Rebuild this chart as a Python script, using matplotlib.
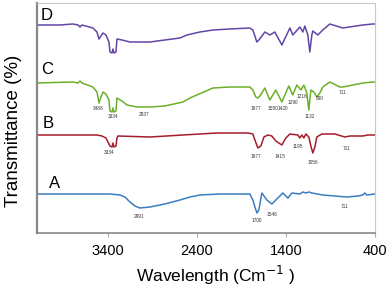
import matplotlib
matplotlib.use('Agg')
import matplotlib.pyplot as plt

plt.rcParams['font.family'] = ['Liberation Sans', 'DejaVu Sans']

# wavenumber (cm-1) / transmittance (offset, arbitrary units)
wn_D = [4200, 3942, 3796, 3739, 3717, 3694, 3571, 3526, 3503, 3481, 3458, 3425, 3391, 3380, 3357,
        3346, 3335, 3312, 3301, 3245, 3155, 2930, 2762, 2593, 2515, 2368, 2222, 2031, 1807, 1773,
        1728, 1706, 1638, 1582, 1526, 1447, 1357, 1324, 1245, 1211, 1189, 1155, 1133, 1110, 1099,
        1043, 987, 908, 762, 537, 425, 400]
T_D = [208, 208, 209, 208, 206, 208, 205, 201, 194, 197, 200, 198, 191, 181, 180,
       184, 180, 181, 194, 193, 191, 191, 193, 195, 198, 201, 203, 204, 205, 203,
       191, 193, 201, 198, 201, 188, 205, 198, 206, 201, 207, 198, 181, 198, 202,
       198, 203, 209, 205, 208, 209, 209]

wn_C = [4200, 3796, 3739, 3717, 3694, 3571, 3526, 3503, 3481, 3458, 3425, 3391, 3380, 3357, 3346,
        3335, 3312, 3301, 3245, 3189, 3076, 2930, 2762, 2560, 2481, 2222, 2031, 1807, 1773, 1740,
        1716, 1694, 1638, 1582, 1515, 1447, 1369, 1324, 1279, 1233, 1200, 1166, 1144, 1121, 1088,
        1054, 1020, 987, 908, 796, 762, 537, 425, 400]
T_C = [150, 151, 150, 152, 150, 146, 141, 130, 136, 141, 139, 133, 122, 121, 125,
       121, 122, 135, 132, 128, 126, 126, 127, 131, 135, 145, 146, 146, 143, 136,
       135, 137, 145, 133, 143, 131, 147, 138, 148, 143, 148, 140, 123, 143, 141,
       136, 140, 146, 151, 146, 146, 150, 151, 151]

wn_B = [4200, 3526, 3470, 3425, 3391, 3380, 3357, 3346, 3335, 3312, 3301, 3290, 2930, 2560, 2178,
        1829, 1773, 1750, 1717, 1683, 1649, 1604, 1560, 1515, 1447, 1402, 1357, 1267, 1245, 1222,
        1200, 1178, 1144, 1121, 1099, 1076, 1054, 998, 852, 739, 683, 537, 481, 400]
T_B = [98, 98, 97, 95, 89, 87, 86, 90, 86, 87, 95, 97, 96, 98, 100,
       100, 99, 93, 85, 87, 96, 98, 97, 92, 88, 95, 99, 98, 95, 98,
       95, 99, 96, 87, 80, 86, 96, 99, 99, 96, 97, 97, 98, 98]

wn_A = [4200, 3380, 3268, 3212, 3155, 3099, 3043, 2930, 2762, 2593, 2481, 2368, 2144, 1807, 1773,
        1750, 1728, 1706, 1672, 1616, 1560, 1515, 1436, 1380, 1335, 1245, 1211, 1178, 1144, 1110,
        987, 852, 717, 593, 537, 515, 492, 400]
T_A = [39, 39, 38, 36, 31, 27, 25, 26, 29, 33, 36, 38, 39, 39, 33,
       26, 20, 23, 40, 33, 29, 33, 40, 35, 40, 39, 41, 40, 41, 40,
       38, 37, 36, 37, 38, 40, 38, 39]

# peak labels: (text, wavenumber, transmittance)
peaks_C = [('3488', 3515, 125), ('3334', 3346, 116), ('2937', 2998, 118), ('1677', 1740, 125),
           ('1550', 1548, 125), ('1420', 1435, 125), ('1290', 1324, 131), ('1216', 1222, 136),
           ('1132', 1133, 116), ('990', 1020, 134), ('711', 762, 140)]
peaks_B = [('3334', 3391, 80), ('1677', 1740, 76), ('1415', 1470, 77), ('1195', 1267, 86),
           ('1056', 1099, 71), ('711', 717, 85)]
peaks_A = [('2991', 3054, 17), ('1700', 1728, 12), ('1546', 1560, 18), ('711', 739, 26)]

letters = [('D', 4088, 218), ('C', 4088, 163), ('B', 4076, 109), ('A', 3998, 50)]

fig = plt.figure(figsize=(3.9, 2.88), dpi=100)
fig.subplots_adjust(left=37/390, right=375/390, top=1-3/288, bottom=1-233/288)
ax = fig.add_subplot(111)

ax.plot(wn_D, T_D, color='#6246a6', lw=1.1)
ax.plot(wn_C, T_C, color='#6cb02a', lw=1.1)
ax.plot(wn_B, T_B, color='#a51d2d', lw=1.1)
ax.plot(wn_A, T_A, color='#3b7cc2', lw=1.1)

for peaks in (peaks_C, peaks_B, peaks_A):
    for txt, x, y in peaks:
        ax.text(x, y, txt, fontsize=3.4, color='#333333', ha='center', va='center')

for txt, x, y in letters:
    ax.text(x, y, txt, fontsize=12, color='black', ha='center', va='center')

ax.set_xlim(4200, 400)
ax.set_ylim(0, 230)
ax.set_xticks([3400, 2400, 1400, 400])
ax.set_yticks([])
ax.tick_params(axis='x', direction='out', length=3, color='#aaaaaa', labelsize=10.5, pad=5)
for s in ['top', 'right']:
    ax.spines[s].set_color('#c8c8c8')
    ax.spines[s].set_linewidth(0.8)
ax.spines['left'].set_color('#888888')
ax.spines['left'].set_linewidth(1.6)
ax.spines['bottom'].set_color('#888888')
ax.spines['bottom'].set_linewidth(1.2)

ax.set_ylabel('Transmittance (%)', fontsize=13.5)
ax.yaxis.set_label_coords(-0.044, 0.443)
ax.set_xlabel('Wavelength (Cm$^{-1}$ )', fontsize=12.5)
ax.xaxis.set_label_coords(0.53, -0.135)

plt.savefig('out.png', dpi=100)
